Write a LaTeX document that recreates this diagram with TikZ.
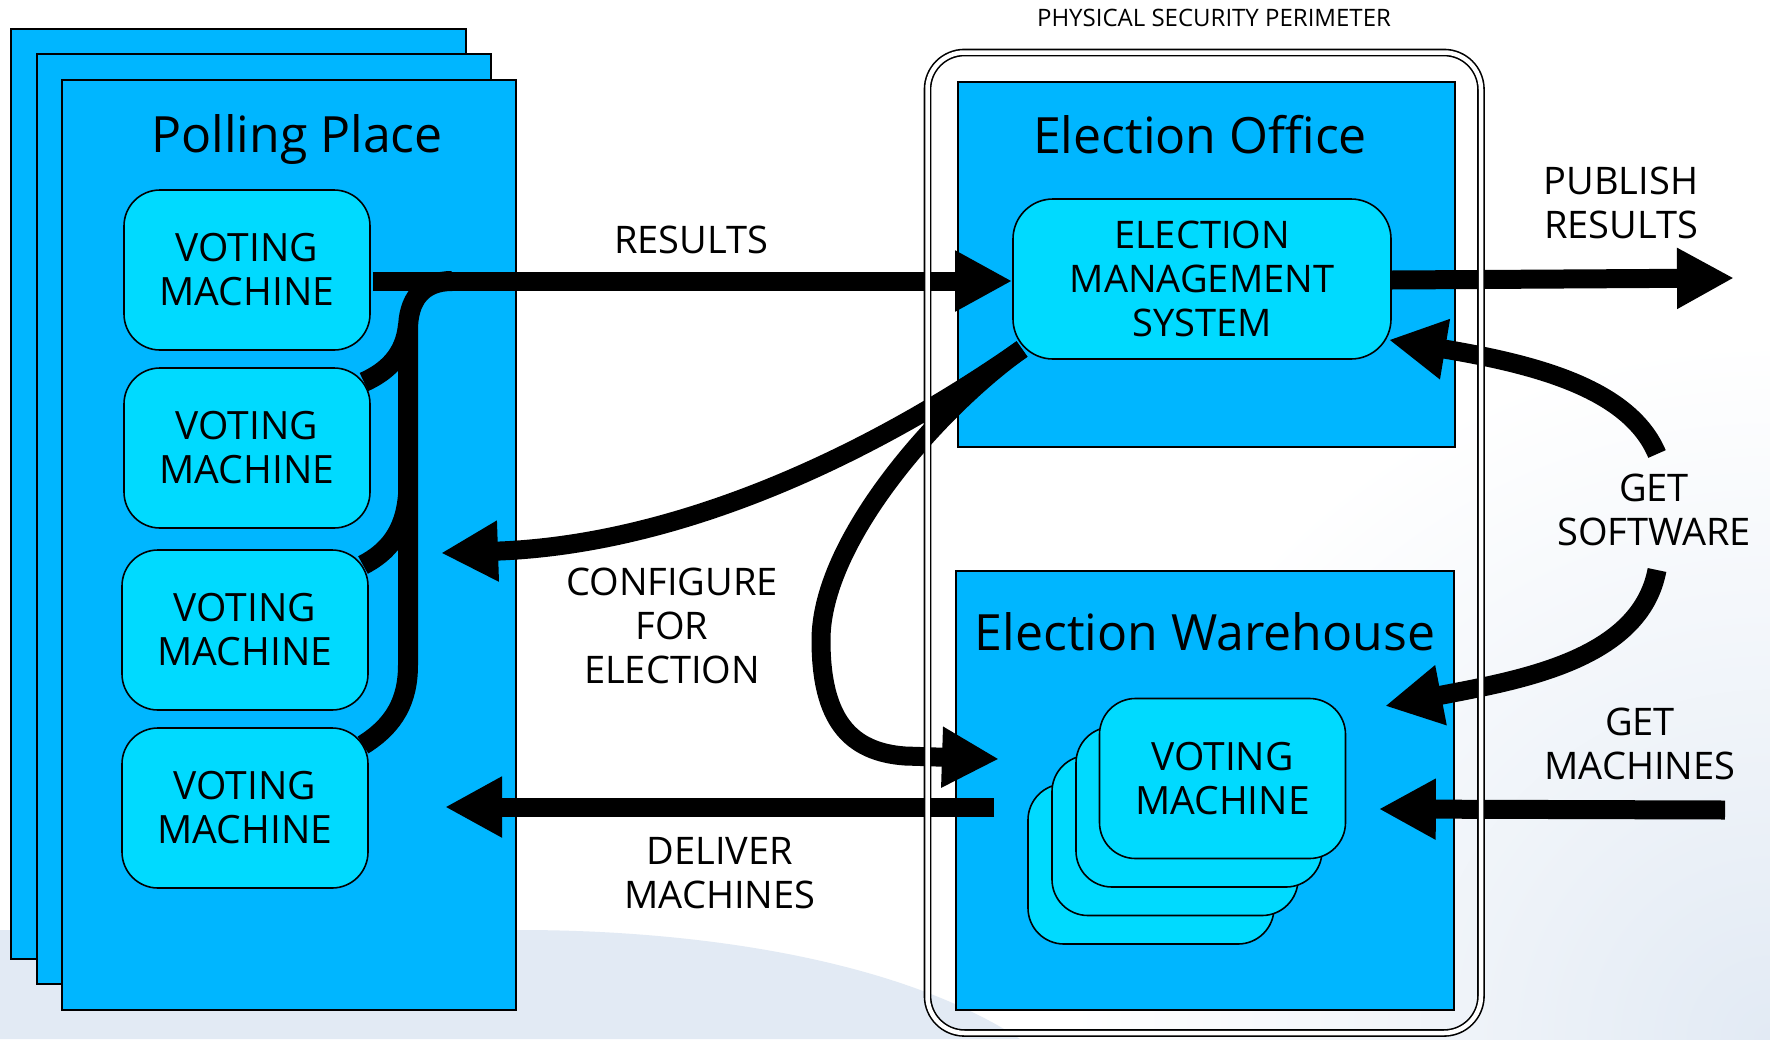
\documentclass[tikz,border=0pt]{standalone}
\usepackage{fontspec}
\setmainfont{Open Sans}
\usetikzlibrary{arrows.meta,calc}
\definecolor{regblue}{RGB}{0,182,255}
\definecolor{boxcyan}{RGB}{0,218,255}
\definecolor{pale}{RGB}{226,234,244}
\begin{document}
\begin{tikzpicture}[x=1pt,y=-1pt,
  region/.style={draw=black,line width=1.6pt,fill=regblue,inner sep=0,anchor=north west},
  machine/.style={draw=black,line width=1.6pt,fill=boxcyan,rounded corners=36pt,minimum width=246pt,minimum height=160pt,inner sep=0,align=center,font=\fontsize{39}{44}\selectfont},
  heading/.style={inner sep=0,anchor=base,font=\fontsize{50}{60}\selectfont},
  lbl/.style={inner sep=0,align=center,font=\fontsize{38}{44}\selectfont},
  flow/.style={line width=19pt,-{Triangle[length=57pt,width=57pt]}},
  wire/.style={line width=20pt},
]
\useasboundingbox (0,0) rectangle (1770,1039);
% background
\fill[white] (0,0) rectangle (1770,1039);
\shade[inner color=pale,outer color=white] (1770,1039) circle (700);
\fill[pale] (0,930) -- (520,930) .. controls (700,930) and (900,960) .. (1020,1039) -- (0,1039) -- cycle;

% regions
\node[region,minimum width=455pt,minimum height=930pt] (pp1) at (10,28) {};
\node[region,minimum width=454pt,minimum height=930pt] (pp2) at (36,53) {};
\node[region,minimum width=454pt,minimum height=930pt] (pp3) at (61,79) {};
\node[region,minimum width=497pt,minimum height=365pt] (office) at (957,81) {};
\node[region,minimum width=498pt,minimum height=439pt] (warehouse) at (955,570) {};

\node[heading] (pptitle) at (297,152) {Polling Place};
\node[heading] (eotitle) at (1200,153) {Election Office};
\node[heading] (ewtitle) at (1205,650) {Election Warehouse};
\node[inner sep=0,anchor=base,font=\fontsize{24}{28}\selectfont] (perimtitle) at (1214,26) {PHYSICAL SECURITY PERIMETER};

% named coordinates for free ends
\coordinate (vm2c) at (364,382);
\coordinate (vm3c) at (363,565);
\coordinate (vm4c) at (363,745);
\coordinate (emscorner) at (1022,349);
\coordinate (cfgtip) at (441,553);
\coordinate (looptip) at (999,759);

% bus from the voting machines
\draw[wire] (vm4c) .. controls (395,725) and (408,700) .. (408,665) -- (408,330) .. controls (408,300) and (422,281) .. (452,281);
\draw[wire] (vm2c) .. controls (386,372) and (405,356) .. (408,325);
\draw[wire] (vm3c) .. controls (388,552) and (405,532) .. (408,495);

% configure and loop curves
\draw[flow] (emscorner) .. controls (872,454) and (680,545) .. (cfgtip);
\draw[flow] (emscorner) .. controls (940,407) and (821,540) .. (821,640) .. controls (821,720) and (850,752) .. (905,756) -- (looptip);

% machines
\node[machine] (vm1) at (247,270) {VOTING\\MACHINE};
\node[machine] (vm2) at (247,448) {VOTING\\MACHINE};
\node[machine] (vm3) at (245,630) {VOTING\\MACHINE};
\node[machine] (vm4) at (245,808) {VOTING\\MACHINE};
\node[machine,minimum width=378pt,rounded corners=40pt,font=\fontsize{38}{44}\selectfont] (ems) at (1202,279) {ELECTION\\MANAGEMENT\\SYSTEM};
\node[machine] (wvm4) at (1151,864) {};
\node[machine] (wvm3) at (1175,835.5) {};
\node[machine] (wvm2) at (1199,807) {};
\node[machine] (wvm1) at (1222.5,778.5) {VOTING\\MACHINE};

% other free ends
\coordinate (pubtip) at (1734,278);
\coordinate (delstart) at ($(wvm4.west)+(-33,-57)$);
\coordinate (deltip) at (445,807);
\coordinate (gmstart) at (1725,810);
\coordinate (gmtip) at ($(wvm1.east)+(32.5,30.5)$);
\coordinate (gsup) at (1657,454);
\coordinate (gslow) at (1657,570);
\coordinate (gstip2) at (1385,706);

% arrows
\draw[flow] ($(vm1.east)+(2,11)$) -- ($(ems.west)+(0,2)$);
\draw[flow] ($(ems.east)+(0,1)$) -- (pubtip);
\draw[flow] (delstart) -- (deltip);
\draw[flow] (gmstart) -- (gmtip);
\draw[flow] (gsup) .. controls (1630,390) and (1540,365) .. ($(ems.south east)+(-3,-20)$);
\draw[flow] (gslow) .. controls (1640,660) and (1520,680) .. (gstip2);

% physical security perimeter
\draw[line width=1.6pt,double=white,double distance=4.5pt,rounded corners=37pt] (927.5,52.5) rectangle (1481,1033);

% labels
\node[lbl] (lres) at (691,240) {RESULTS};
\node[lbl] (lpub) at (1621,203) {PUBLISH\\RESULTS};
\node[lbl] (lcfg) at (672,626) {CONFIGURE\\FOR\\ELECTION};
\node[lbl] (ldel) at (720,873) {DELIVER\\MACHINES};
\node[lbl] (lgs) at (1654,510) {GET\\SOFTWARE};
\node[lbl] (lgm) at (1640,744) {GET\\MACHINES};
\end{tikzpicture}
\end{document}
